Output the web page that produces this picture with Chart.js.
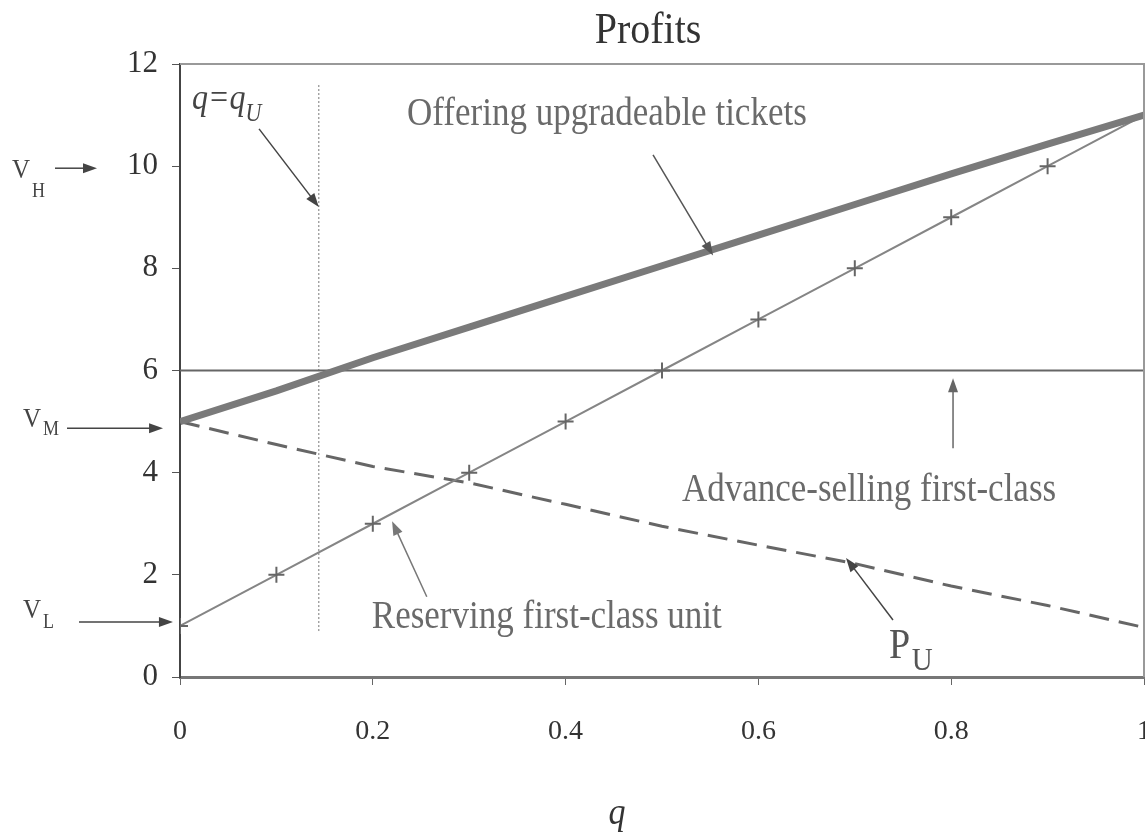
<!DOCTYPE html>
<html>
<head>
<meta charset="utf-8">
<script src="https://cdn.jsdelivr.net/npm/chart.js@4/dist/chart.umd.min.js"></script>
<style>
    body { margin: 0; background: #fff; overflow: hidden; }
    #wrap { width: 1145px; height: 832px; overflow: hidden; }
</style>
</head>
<body>
<div id="wrap"><canvas id="chart" width="1180" height="832"></canvas></div>
<script>
// Values
const qValues = [0, 0.1, 0.2, 0.3, 0.4, 0.5, 0.6, 0.7, 0.8, 0.9, 1];
const upgradeable = [5, 5.6, 6.25, 6.85, 7.45, 8.05, 8.65, 9.25, 9.85, 10.43, 11];
const reserving = [1, 2, 3, 4, 5, 6, 7, 8, 9, 10, 11];
const advanceSelling = [6, 6, 6, 6, 6, 6, 6, 6, 6, 6, 6];
const priceU = [5, 4.55, 4.12, 3.8, 3.38, 2.95, 2.58, 2.22, 1.78, 1.4, 0.97];
const qU = 0.144;
const qULine = [0.9, 11.6];

const xTickValues = [0, 0.2, 0.4, 0.6, 0.8, 1];
const yTickValues = [0, 2, 4, 6, 8, 10, 12];

const serif = '"Liberation Serif", "Times New Roman", serif';

function pairs(ys) {
    return qValues.map((q, i) => ({ x: q, y: ys[i] }));
}

// text labels: [text, q, value, size, italic, colour]
const labels = [
    ['Offering upgradeable tickets', 0.2355, 10.81, 35, false, '#6a6a6a'],
    ['Advance-selling first-class', 0.5207, 3.45, 35, false, '#6a6a6a'],
    ['Reserving first-class unit', 0.199, 0.96, 35, false, '#6a6a6a'],
    ['P', 0.7355, 0.37, 38, false, '#555'],
    ['U', 0.759, 0.137, 29, false, '#555'],
    ['q=q', 0.0124, 11.12, 32, true, '#444'],
    ['U', 0.068, 10.88, 22, true, '#444'],
    ['V', -0.1743, 9.77, 25, false, '#444'],
    ['H', -0.1535, 9.4, 18, false, '#444'],
    ['V', -0.1629, 4.89, 25, false, '#444'],
    ['M', -0.1421, 4.74, 18, false, '#444'],
    ['V', -0.1629, 1.155, 25, false, '#444'],
    ['L', -0.1421, 0.96, 18, false, '#444']
];

// arrows: [fromQ, fromV, toQ, toV, colour]
const arrows = [
    [0.082, 10.73, 0.144, 9.2, '#444'],
    [0.4907, 10.22, 0.553, 8.25, '#555'],
    [0.8019, 4.48, 0.8019, 5.85, '#666'],
    [0.256, 1.57, 0.22, 3.05, '#777'],
    [0.7396, 1.116, 0.6909, 2.33, '#444'],
    [-0.1297, 9.96, -0.0861, 9.96, '#444'],
    [-0.1172, 4.87, -0.0176, 4.87, '#444'],
    [-0.1048, 1.077, -0.0073, 1.077, '#444']
];

function stretchedText(ctx, text, x, y, size, italic, colour) {
    ctx.save();
    ctx.font = (italic ? 'italic ' : '') + size + 'px ' + serif;
    ctx.fillStyle = colour;
    ctx.textAlign = 'left';
    ctx.textBaseline = 'alphabetic';
    ctx.translate(x, y);
    ctx.scale(1, 1.12);
    ctx.fillText(text, 0, 0);
    ctx.restore();
}

function drawArrow(ctx, x1, y1, x2, y2, colour) {
    const ang = Math.atan2(y2 - y1, x2 - x1);
    const len = 14, half = 5;
    ctx.save();
    ctx.strokeStyle = colour;
    ctx.fillStyle = colour;
    ctx.lineWidth = 1.5;
    ctx.beginPath();
    ctx.moveTo(x1, y1);
    ctx.lineTo(x2 - Math.cos(ang) * len * 0.8, y2 - Math.sin(ang) * len * 0.8);
    ctx.stroke();
    ctx.beginPath();
    ctx.moveTo(x2, y2);
    ctx.lineTo(x2 - Math.cos(ang) * len - Math.sin(ang) * half, y2 - Math.sin(ang) * len + Math.cos(ang) * half);
    ctx.lineTo(x2 - Math.cos(ang) * len + Math.sin(ang) * half, y2 - Math.sin(ang) * len - Math.cos(ang) * half);
    ctx.closePath();
    ctx.fill();
    ctx.restore();
}

const annotationPlugin = {
    id: 'annotations',
    afterDraw(chart) {
        const ctx = chart.ctx;
        const xs = chart.scales.x, ys = chart.scales.y;
        const area = chart.chartArea;

        // top and right frame
        ctx.save();
        ctx.strokeStyle = '#999';
        ctx.lineWidth = 2;
        ctx.beginPath();
        ctx.moveTo(area.left, area.top);
        ctx.lineTo(area.right, area.top);
        ctx.lineTo(area.right, area.bottom);
        ctx.stroke();
        ctx.restore();

        // title and axis label
        ctx.save();
        ctx.font = '40px ' + serif;
        ctx.fillStyle = '#333';
        ctx.textAlign = 'center';
        ctx.translate(xs.getPixelForValue(0.4855), ys.getPixelForValue(12.41));
        ctx.scale(1, 1.12);
        ctx.fillText('Profits', 0, 0);
        ctx.restore();

        ctx.save();
        ctx.font = 'italic 34px ' + serif;
        ctx.fillStyle = '#333';
        ctx.textAlign = 'center';
        ctx.translate(xs.getPixelForValue(0.4533), ys.getPixelForValue(-2.88));
        ctx.scale(1, 1.12);
        ctx.fillText('q', 0, 0);
        ctx.restore();

        labels.forEach(l => {
            stretchedText(ctx, l[0], xs.getPixelForValue(l[1]), ys.getPixelForValue(l[2]), l[3], l[4], l[5]);
        });
        arrows.forEach(a => {
            drawArrow(ctx, xs.getPixelForValue(a[0]), ys.getPixelForValue(a[1]),
                xs.getPixelForValue(a[2]), ys.getPixelForValue(a[3]), a[4]);
        });
    }
};

const ctx = document.getElementById('chart').getContext('2d');
new Chart(ctx, {
    type: 'line',
    data: {
        datasets: [
            {
                label: 'Offering upgradeable tickets',
                data: pairs(upgradeable),
                borderColor: '#7a7a7a',
                borderWidth: 7,
                pointRadius: 0
            },
            {
                label: 'Reserving first-class unit',
                data: pairs(reserving),
                borderColor: '#858585',
                borderWidth: 2,
                pointStyle: 'cross',
                pointRadius: 8,
                pointBorderWidth: 2,
                pointBorderColor: '#666'
            },
            {
                label: 'Advance-selling first-class',
                data: pairs(advanceSelling),
                borderColor: '#666',
                borderWidth: 2,
                pointRadius: 0
            },
            {
                label: 'P_U',
                data: pairs(priceU),
                borderColor: '#666',
                borderWidth: 3,
                borderDash: [20, 10],
                pointRadius: 0
            },
            {
                label: 'q = q_U',
                data: qULine.map(v => ({ x: qU, y: v })),
                borderColor: '#777',
                borderWidth: 1,
                borderDash: [2, 2],
                pointRadius: 0
            }
        ]
    },
    options: {
        responsive: false,
        animation: false,
        layout: { padding: { top: 64, right: 36, left: 0, bottom: 0 } },
        plugins: {
            legend: { display: false },
            tooltip: { enabled: false },
            title: { display: false }
        },
        scales: {
            x: {
                type: 'linear',
                min: 0,
                max: 1,
                afterBuildTicks: s => { s.ticks = xTickValues.map(v => ({ value: v })); },
                afterFit: s => { s.height = 155; s.paddingLeft = 0; s.paddingRight = 0; },
                ticks: {
                    font: { family: serif, size: 28 }, color: '#333', padding: 30, maxRotation: 0,
                    callback: v => String(v)
                },
                grid: { drawOnChartArea: false, tickLength: 8, color: '#666', lineWidth: 1 },
                border: { color: '#777', width: 3 }
            },
            y: {
                min: 0,
                max: 12,
                afterBuildTicks: s => { s.ticks = yTickValues.map(v => ({ value: v })); },
                afterFit: s => { s.width = 180; },
                ticks: { font: { family: serif, size: 31 }, color: '#333', padding: 14 },
                grid: { drawOnChartArea: false, tickLength: 8, color: '#555', lineWidth: 1 },
                border: { color: '#444', width: 2 }
            }
        }
    },
    plugins: [annotationPlugin]
});
</script>
</body>
</html>
